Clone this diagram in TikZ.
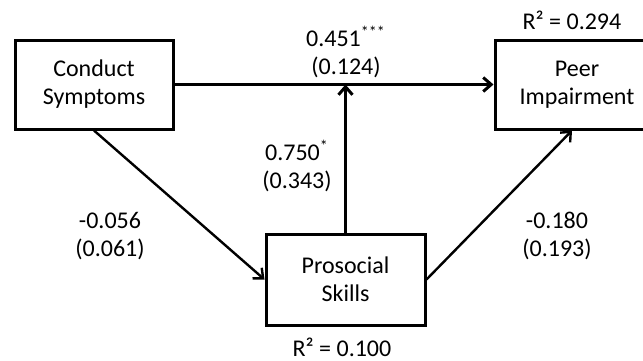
\documentclass[tikz,border=0pt]{standalone}
\usepackage{fontspec}
\setmainfont{Carlito}
\usetikzlibrary{arrows.meta, calc}

\begin{document}
\begin{tikzpicture}[x=0.5pt, y=-0.5pt, every text node part/.style={align=center},
  font=\fontsize{12}{14}\selectfont]

\tikzstyle{box}=[draw, line width=1.5pt, inner sep=0pt]
\tikzstyle{edge}=[draw, line width=1.5pt, -{Straight Barb[length=4pt, width=7pt]}]
\tikzstyle{diag}=[draw, line width=1.2pt, -{Straight Barb[length=4pt, width=7pt]}]

\useasboundingbox (0, 0) rectangle (643, 360);
\clip (0, 0) rectangle (643, 360);

\node [box, minimum width=79pt, minimum height=44.5pt] (conduct)   at ( 94, 84.5) {Conduct\\Symptoms};
\node [box, minimum width=82pt, minimum height=44.5pt] (peer)      at (577, 84.5) {Peer\\Impairment};
\node [box, minimum width=79.5pt, minimum height=45.5pt] (prosocial) at (345.5, 279.5) {Prosocial\\Skills};

\node (r2peer)      at (572, 20)  {R² = 0.294};
\node (r2prosocial) at (342, 347) {R² = 0.100};

\node (ab)   at (346, 52)  {0.451\textsuperscript{***}\\(0.124)};
\node (b)    at (297, 166) {0.750\textsuperscript{*}\\(0.343)};
\node (a)    at (110, 236) {-0.056\\(0.061)};
\node (c)    at (557, 236) {-0.180\\(0.193)};

\coordinate (join) at (prosocial |- conduct.east);

\path [edge] (conduct.east) -- (peer.west);
\path [edge] (prosocial.north) -- (join);
\path [diag] (conduct.south) -- (prosocial.west);
\path [diag] (prosocial.east) -- ([xshift=-2.5pt]peer.south);

\end{tikzpicture}
\end{document}
